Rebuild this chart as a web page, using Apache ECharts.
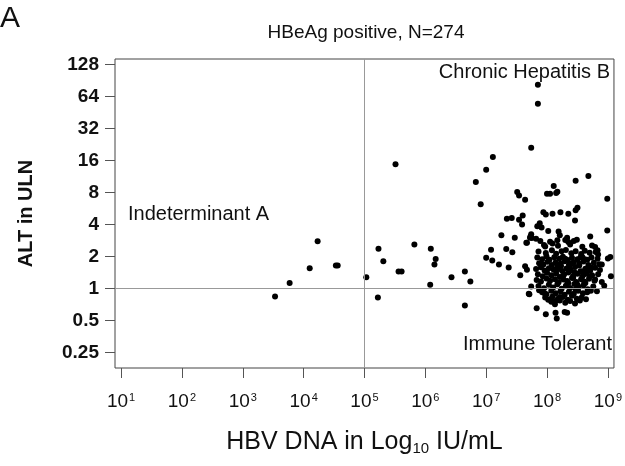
<!DOCTYPE html>
<html>
<head>
<meta charset="utf-8">
<title>HBeAg positive</title>
<script src="https://cdn.jsdelivr.net/npm/echarts@6/dist/echarts.min.js"></script>
<style>
    html, body { margin: 0; padding: 0; background: #fff; }
    #chart { width: 625px; height: 466px; }
</style>
</head>
<body>
<div id="chart"></div>
<script>
// x = HBV DNA as log10 IU/mL, y = ALT in multiples of ULN
var leftPoints = [
    [3.53,0.84],[3.77,1.12],[4.10,1.55],[4.23,2.77],[4.53,1.64],[4.56,1.64],
    [5.03,1.27],[5.22,0.82],[5.23,2.36],[5.31,1.80],[5.51,14.7],[5.56,1.44],
    [5.61,1.44],[5.82,2.59],[6.08,1.08],[6.09,2.36],[6.17,1.89],[6.15,1.68],
    [6.43,1.27],[6.65,1.44],[6.65,0.69],[6.74,1.16]
];

var upperPoints = [
    [6.83,10.0],[6.91,6.17],[7.00,13.1],[7.11,17.2],[7.25,3.16],[7.34,4.53],
    [7.42,4.59],[7.47,2.99],[7.51,8.06],[7.54,7.46],[7.64,6.82],[7.54,4.43],
    [7.60,4.86],[7.59,4.00],[7.66,2.69],[7.74,21.1],[7.85,54.6],[7.85,82.3],
    [7.73,3.10],[7.75,2.98],[7.74,3.23],[7.72,2.99],[7.82,2.93],[7.89,2.79],
    [7.67,2.68],[7.88,4.10],[7.84,3.84],[7.91,3.73],[7.94,5.20],[7.98,4.96],
    [8.09,5.03],[8.02,3.46],[8.00,7.77],[8.05,7.77],[8.11,9.18],[8.15,7.90],
    [8.17,8.10],[8.19,3.43],[8.21,3.16],[8.22,5.20],[8.35,5.03],[8.47,10.3],
    [8.68,11.4],[8.50,5.74],[8.47,5.43],[8.46,4.36],[8.99,6.96],[8.71,3.08],
    [8.99,3.50],[7.97,2.48],[8.09,2.64],[8.17,2.83],[8.33,2.99],[8.35,2.73],
    [8.44,2.79],[8.49,2.87],[8.05,2.75],[8.30,2.85]
];

var lowerPoints = [
    [7.00,1.94],[7.08,2.31],[7.10,1.83],[7.21,1.68],[7.33,2.35],[7.43,2.19],
    [7.37,1.57],[7.56,1.33],[7.64,1.61],[7.67,1.50],[7.70,0.89],[7.74,1.04],
    [7.71,0.88],[7.83,0.65],[7.98,0.57],[8.14,0.59],[8.16,0.52],[8.29,0.60],
    [8.33,0.59],[8.79,2.45],[8.83,2.28],[8.84,2.08],[9.04,1.97],[9.00,1.91],
    [9.05,1.30],[8.90,1.68],[8.90,1.15],[8.94,1.06],[8.79,1.21],[8.72,0.95],
    [7.87,0.96],[7.96,0.90],[8.05,0.79],[8.14,0.76],[8.21,0.83]
];

var clusterPoints = [
    [7.95,2.56],[8.18,2.52],[8.38,2.58],[8.58,2.46],[8.74,2.53],
    [7.86,2.22],[7.98,2.15],[8.08,2.28],[8.15,2.12],[8.24,2.24],[8.31,2.30],
    [8.40,2.14],[8.47,2.24],[8.56,2.10],[8.62,2.26],[8.70,2.16],[8.80,2.20],
    [7.84,1.95],[7.92,1.88],[7.99,2.00],[8.04,1.86],[8.12,1.96],[8.20,1.90],
    [8.26,1.98],[8.34,1.85],[8.41,1.94],[8.50,1.88],[8.58,1.97],[8.66,1.86],
    [8.73,1.95],[8.83,1.90],
    [7.87,1.72],[7.94,1.68],[8.01,1.78],[8.08,1.66],[8.14,1.75],[8.22,1.70],
    [8.29,1.80],[8.36,1.67],[8.44,1.76],[8.53,1.70],[8.60,1.79],[8.68,1.66],
    [8.77,1.74],[8.86,1.69],
    [7.82,1.52],[7.90,1.58],[7.96,1.47],[8.03,1.55],[8.11,1.50],[8.17,1.60],
    [8.25,1.46],[8.32,1.54],[8.39,1.48],[8.46,1.59],[8.55,1.45],[8.63,1.53],
    [8.71,1.47],[8.79,1.56],[8.87,1.49],
    [7.85,1.36],[7.93,1.30],[8.00,1.40],[8.07,1.33],[8.15,1.38],[8.21,1.28],
    [8.28,1.35],[8.35,1.41],[8.43,1.31],[8.50,1.37],[8.58,1.29],[8.65,1.39],
    [8.74,1.33],[8.84,1.36],
    [7.83,1.20],[7.90,1.16],[7.99,1.24],[8.05,1.18],[8.13,1.22],[8.19,1.14],
    [8.27,1.21],[8.33,1.17],[8.41,1.25],[8.48,1.15],[8.56,1.22],[8.61,1.16],
    [8.69,1.23],[8.78,1.18],
    [7.86,1.05],[7.95,1.00],[8.03,1.08],[8.10,1.02],[8.17,1.09],[8.24,0.99],
    [8.31,1.06],[8.38,1.01],[8.45,1.10],[8.52,1.03],[8.60,1.07],[8.67,0.98],
    [8.76,1.04],
    [7.92,0.92],[7.99,0.88],[8.07,0.95],[8.14,0.90],[8.22,0.94],[8.29,0.87],
    [8.36,0.93],[8.44,0.89],[8.51,0.95],[8.59,0.90],[8.66,0.92],[8.82,0.94],
    [7.97,0.82],[8.02,0.78],[8.09,0.84],[8.18,0.80],[8.26,0.83],[8.34,0.78],
    [8.41,0.85],[8.49,0.80],[8.57,0.82],[8.64,0.79],
    [8.07,0.75],[8.13,0.71],[8.21,0.77],[8.30,0.73],[8.38,0.76],[8.46,0.72],
    [8.54,0.77],
    [8.23,1.62],[8.37,1.58],[8.45,1.42],[8.53,1.64],[8.61,1.36],[8.68,1.52],
    [8.35,1.12],[8.43,1.26],[8.50,1.08],[8.58,1.44],[8.26,1.30],[8.19,1.52],
    [8.62,1.88],[8.70,1.30],[8.41,1.72],[8.30,1.90],[8.55,1.95],[8.47,0.98],
    [8.63,1.12],[8.72,1.58]
];

var xTickExp = [1, 2, 3, 4, 5, 6, 7, 8, 9];   // 10^1 .. 10^9
var yTickExp = [-2, -1, 0, 1, 2, 3, 4, 5, 6, 7]; // 0.25 .. 128
var dnaCutoff = 5;   // 10^5 IU/mL
var altCutoff = 1;   // 1 x ULN

var FONT = '"Liberation Sans", Arial, sans-serif';

function toPlot(p) {
    return [p[0], Math.log2(p[1])];
}

var allPoints = leftPoints.concat(upperPoints, lowerPoints, clusterPoints).map(toPlot);

var chart = echarts.init(document.getElementById('chart'));

var option = {
    animation: false,
    textStyle: { fontFamily: FONT },
    grid: {
        show: true,
        left: 115,
        right: 9,
        top: 59,
        bottom: 98,
        borderColor: '#444',
        borderWidth: 1
    },
    xAxis: {
        type: 'value',
        min: 0.9,
        max: 9.1,
        splitLine: { show: false },
        axisLine: { show: false, onZero: false },
        axisTick: {
            show: true,
            length: 10,
            customValues: xTickExp,
            lineStyle: { color: '#555' }
        },
        axisLabel: {
            customValues: xTickExp,
            margin: 24,
            fontSize: 19,
            fontFamily: FONT,
            color: '#111',
            formatter: function (v) {
                return '{b|10}{s|' + v + '}';
            },
            rich: {
                b: { fontSize: 19, fontFamily: FONT, color: '#111', lineHeight: 20 },
                s: { fontSize: 11, fontFamily: FONT, color: '#111', lineHeight: 10, verticalAlign: 'top', padding: [0, 0, 0, 1] }
            }
        },
        name: '{n|HBV DNA in Log}{sub|10}{n| IU/mL}',
        nameLocation: 'middle',
        nameGap: 60,
        nameTextStyle: {
            fontSize: 25,
            fontFamily: FONT,
            rich: {
                n: { fontSize: 25, fontFamily: FONT, color: '#111', lineHeight: 28 },
                sub: { fontSize: 15, fontFamily: FONT, color: '#111', lineHeight: 14, verticalAlign: 'bottom' }
            }
        }
    },
    yAxis: {
        type: 'value',
        min: -2.49,
        max: 7.17,
        splitLine: { show: false },
        axisLine: { show: false, onZero: false },
        axisTick: {
            show: true,
            length: 10,
            customValues: yTickExp,
            lineStyle: { color: '#555' }
        },
        axisLabel: {
            customValues: yTickExp,
            margin: 16,
            fontSize: 19,
            fontWeight: 'bold',
            color: '#111',
            formatter: function (v) {
                return String(Math.pow(2, v));
            }
        },
        name: 'ALT in ULN',
        nameLocation: 'middle',
        nameRotate: 90,
        nameGap: 79,
        nameTextStyle: {
            fontSize: 20,
            fontWeight: 'bold',
            color: '#111'
        }
    },
    graphic: [
        { type: 'text', x: 0, y: 19, style: { text: 'A', font: '30px ' + FONT, fill: '#111', textVerticalAlign: 'middle' } },
        { type: 'text', x: 366, y: 33, style: { text: 'HBeAg positive, N=274', font: '19px ' + FONT, fill: '#111', textAlign: 'center', textVerticalAlign: 'middle' } },
        { type: 'text', x: 610, y: 72, style: { text: 'Chronic Hepatitis B', font: '20px ' + FONT, fill: '#111', textAlign: 'right', textVerticalAlign: 'middle' } },
        { type: 'text', x: 128, y: 214, style: { text: 'Indeterminant A', font: '20px ' + FONT, fill: '#111', textAlign: 'left', textVerticalAlign: 'middle' } },
        { type: 'text', x: 612, y: 344, style: { text: 'Immune Tolerant', font: '20px ' + FONT, fill: '#111', textAlign: 'right', textVerticalAlign: 'middle' } }
    ],
    series: [{
        type: 'scatter',
        symbol: 'circle',
        symbolSize: 6,
        itemStyle: { color: '#000', opacity: 1 },
        data: allPoints,
        markLine: {
            silent: true,
            symbol: ['none', 'none'],
            label: { show: false },
            lineStyle: { color: '#999', width: 1, type: 'solid' },
            data: [
                { xAxis: dnaCutoff },
                { yAxis: Math.log2(altCutoff) }
            ]
        }
    }]
};

chart.setOption(option);
</script>
</body>
</html>
